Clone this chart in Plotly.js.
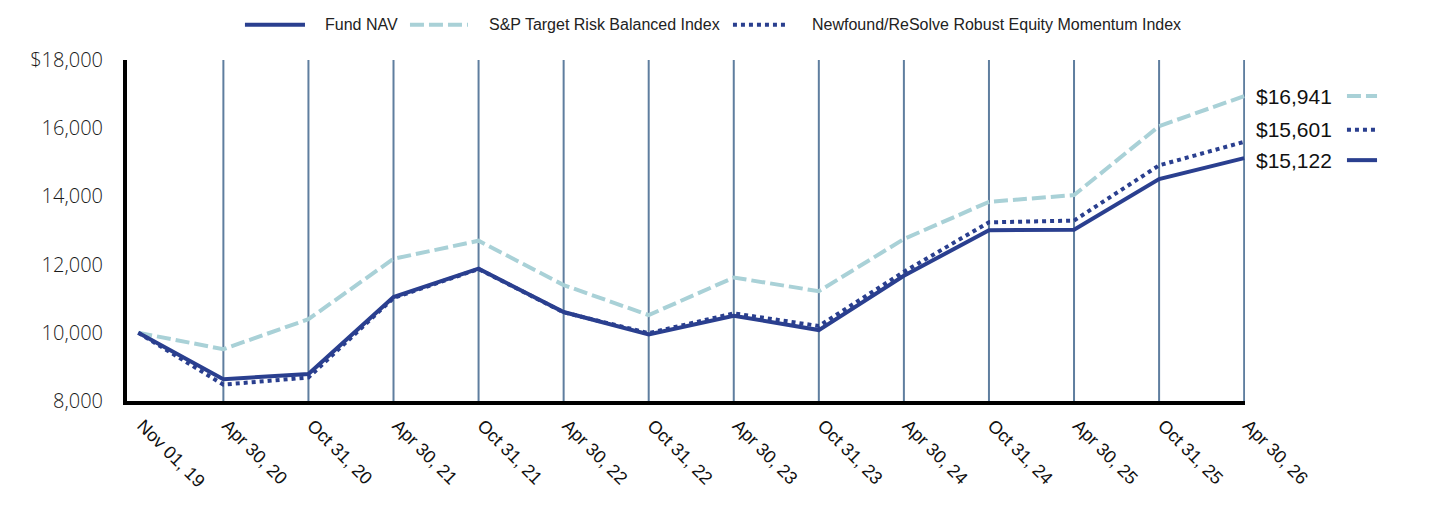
<!DOCTYPE html>
<html>
<head>
<meta charset="utf-8">
<script src="https://cdn.plot.ly/plotly-3.0.1.min.js"></script>
<style>
  html, body { margin: 0; padding: 0; background: #ffffff; }
  #chart { width: 1436px; height: 526px; }
</style>
</head>
<body>
<div id="chart"></div>
<script>
// Growth of a $10,000 investment, period-end values
const periods = ["Nov 01, 19", "Apr 30, 20", "Oct 31, 20", "Apr 30, 21", "Oct 31, 21", "Apr 30, 22",
  "Oct 31, 22", "Apr 30, 23", "Oct 31, 23", "Apr 30, 24", "Oct 31, 24", "Apr 30, 25", "Oct 31, 25", "Apr 30, 26"];

const fundNav = [10000, 8640, 8790, 11050, 11880, 10610, 9950, 10500, 10080, 11670, 13010, 13020, 14510, 15122];
const spTargetRisk = [10000, 9520, 10400, 12170, 12700, 11400, 10520, 11620, 11220, 12750, 13840, 14040, 16060, 16941];
const newfoundIndex = [10000, 8480, 8690, 11020, 11870, 10600, 9990, 10570, 10200, 11790, 13240, 13290, 14910, 15601];

const seriesNames = ["Fund NAV", "S&P Target Risk Balanced Index", "Newfound/ReSolve Robust Equity Momentum Index"];

const yTickVals = [8000, 10000, 12000, 14000, 16000, 18000];
const yTickText = ["8,000", "10,000", "12,000", "14,000", "16,000", "$18,000"];

const navy = "#2a3f8f";
const teal = "#a9d1d7";
const gridBlue = "#5f7e9f";
const arial = "Arial, 'Liberation Sans', sans-serif";

const lineFund = { color: navy, width: 4 };
const lineSP = { color: teal, width: 4, dash: "14px,5px" };
const lineNF = { color: navy, width: 4, dash: "dot" };

const traces = [
  { x: periods, y: spTargetRisk, name: seriesNames[1], type: "scatter", mode: "lines",
    line: lineSP, hoverinfo: "skip" },
  { x: periods, y: newfoundIndex, name: seriesNames[2], type: "scatter", mode: "lines",
    line: lineNF, hoverinfo: "skip" },
  { x: periods, y: fundNav, name: seriesNames[0], type: "scatter", mode: "lines",
    line: lineFund, hoverinfo: "skip" }
];

// vertical rules at each period after the start date
const shapes = periods.slice(1).map(p => ({
  type: "line", xref: "x", yref: "paper", x0: p, x1: p, y0: 0, y1: 1,
  line: { color: gridBlue, width: 2 }, layer: "below"
}));

const annotations = [];

// legend row above the plot: key line + series name
const legendRow = [
  { name: seriesNames[0], line: lineFund, x0: 0.1055, x1: 0.1592, tx: 0.1750 },
  { name: seriesNames[1], line: lineSP, x0: 0.2531, x1: 0.3050, tx: 0.3217 },
  { name: seriesNames[2], line: lineNF, x0: 0.5420, x1: 0.5903, tx: 0.6109 }
];
const legendY = 1.1035;
legendRow.forEach(it => {
  shapes.push({ type: "line", xref: "paper", yref: "paper", x0: it.x0, x1: it.x1,
    y0: legendY, y1: legendY, line: Object.assign({}, it.line) });
  annotations.push({ xref: "paper", yref: "paper", x: it.tx, y: legendY,
    xanchor: "left", yanchor: "middle", showarrow: false, text: it.name,
    font: { family: arial, size: 16, color: "#222" } });
});

// end-of-period value labels with line keys
const last = periods.length - 1;
const endItems = [
  { value: spTargetRisk[last], line: lineSP, shift: 0 },
  { value: newfoundIndex[last], line: lineNF, shift: 12 },
  { value: fundNav[last], line: lineFund, shift: -2 }
];

endItems.forEach(it => {
  annotations.push({
    xref: "x", yref: "y", x: last, y: it.value, xanchor: "left", yanchor: "middle",
    xshift: 10, yshift: it.shift, showarrow: false,
    text: "$" + it.value.toLocaleString("en-US"),
    font: { family: arial, size: 21, color: "#111" }
  });
  shapes.push({
    type: "line", xref: "paper", yref: "y", ysizemode: "pixel",
    yanchor: it.value, x0: 1.0912, x1: 1.1181, y0: it.shift, y1: it.shift,
    line: Object.assign({}, it.line)
  });
});

const layout = {
  width: 1436, height: 526,
  margin: { l: 127, r: 191, t: 60, b: 125, autoexpand: false },
  paper_bgcolor: "#ffffff", plot_bgcolor: "#ffffff",
  showlegend: false,
  xaxis: {
    type: "category", range: [-0.133, 13.01], showgrid: false, zeroline: false,
    showline: true, linecolor: "#000", linewidth: 4, ticks: "",
    tickangle: 45, ticklabelstandoff: 3, ticklabelshift: 4, fixedrange: true,
    tickfont: { family: arial, size: 18, color: "#111" }
  },
  yaxis: {
    range: [8000, 18000], tickvals: yTickVals, ticktext: yTickText,
    showgrid: false, zeroline: false, showline: true, linecolor: "#000", linewidth: 4,
    ticks: "", ticklabelstandoff: 16, fixedrange: true,
    tickfont: { family: "'Open Sans', sans-serif", size: 20, color: "#1a1a1a", weight: 300 }
  },
  shapes: shapes,
  annotations: annotations
};

Plotly.newPlot("chart", traces, layout, { staticPlot: true, displayModeBar: false });
</script>
</body>
</html>
